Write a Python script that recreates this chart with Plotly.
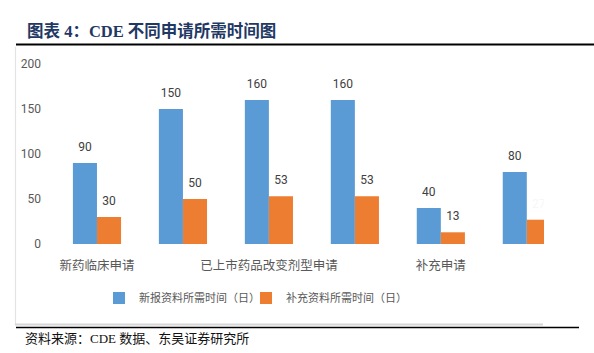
import plotly.graph_objects as go

# ---- data ----
cat_index = [0, 1, 2, 3, 4, 5]
tick_positions = [0, 2, 4]
tick_labels = ["新药临床申请", "已上市药品改变剂型申请", "补充申请"]
new_days = [90, 150, 160, 160, 40, 80]
supp_days = [30, 50, 53, 53, 13, 27]
series_names = ["新报资料所需时间（日）", "补充资料所需时间（日）"]
title_text = "图表 4：CDE 不同申请所需时间图"
source_text = "资料来源：CDE 数据、东吴证券研究所"

W, H = 594, 353
L, R, T, B = 54, 544, 64, 244  # plot area in px


def px(xp):
    return (xp - L) / (R - L)


def py(yp):
    return (B - yp) / (B - T)


blue = "#5B9BD5"
orange = "#ED7D31"
label_color = "#404040"

fig = go.Figure()
fig.add_trace(go.Bar(x=cat_index, y=new_days, name=series_names[0], offsetgroup="a", legend="legend",
                     marker=dict(color=blue, line=dict(width=0)), cliponaxis=True))
fig.add_trace(go.Bar(x=cat_index, y=supp_days, name=series_names[1], offsetgroup="b", legend="legend2",
                     marker=dict(color=orange, line=dict(width=0)), cliponaxis=True))

# data labels (scatter text grouped like the bars)
for vals, grp in [(new_days, "a"), (supp_days, "b")]:
    colors = [label_color] * len(vals)
    if grp == "b":
        colors[-1] = "#f7f7f7"  # label of the clipped last bar is barely visible
    fig.add_trace(go.Scatter(x=cat_index, y=vals, mode="markers+text", text=[str(v) for v in vals],
                             textposition="top center", offsetgroup=grp, showlegend=False,
                             marker=dict(size=13, color="rgba(0,0,0,0)"),
                             textfont=dict(family="Roboto, Noto Sans CJK SC", size=12, color=colors),
                             cliponaxis=True, hoverinfo="skip"))

legend_font = dict(family="Noto Sans CJK SC", size=11, color="#595959")
fig.update_layout(
    width=W, height=H,
    margin=dict(l=L, r=W - R, t=T, b=H - B),
    paper_bgcolor="white", plot_bgcolor="white",
    barmode="group", bargap=0.44, bargroupgap=0,
    scattermode="group", scattergap=0.44,
    showlegend=True,
    legend=dict(orientation="h", x=px(99), xanchor="left", y=py(298), yanchor="middle",
                font=legend_font, bgcolor="rgba(0,0,0,0)"),
    legend2=dict(orientation="h", x=px(246), xanchor="left", y=py(298), yanchor="middle",
                 font=legend_font, bgcolor="rgba(0,0,0,0)"),
    xaxis=dict(range=[-0.5, 5.2], tickmode="array", tickvals=tick_positions, ticktext=tick_labels,
               showgrid=False, showline=False, zeroline=False, ticks="",
               ticklabelstandoff=12,
               tickfont=dict(family="Noto Sans CJK SC", size=12.5, color="#595959")),
    yaxis=dict(range=[0, 200], dtick=50, showgrid=False, showline=False, zeroline=False,
               ticks="", ticklabelstandoff=12,
               tickfont=dict(family="Liberation Sans Narrow, Roboto, Noto Sans CJK SC", size=12, color="#595959")),
    shapes=[
        dict(type="line", xref="paper", yref="paper", x0=px(16), x1=px(594), y0=py(44.5), y1=py(44.5),
             line=dict(color="black", width=2.2)),
        dict(type="line", xref="paper", yref="paper", x0=px(15.5), x1=px(15.5), y0=py(47), y1=py(325),
             line=dict(color="#e3e3e3", width=1.2)),
        dict(type="line", xref="paper", yref="paper", x0=px(15), x1=px(543), y0=py(324.5), y1=py(324.5),
             line=dict(color="#d6d6d6", width=2)),
        dict(type="line", xref="paper", yref="paper", x0=px(16), x1=px(579), y0=py(327.5), y1=py(327.5),
             line=dict(color="black", width=1.5)),
    ],
    annotations=[
        dict(text="<b>" + title_text + "</b>", xref="paper", yref="paper", x=px(25), y=py(31),
             xanchor="left", yanchor="middle", showarrow=False,
             font=dict(family="Liberation Serif, Noto Sans CJK SC", size=16.5, color="#1F3864")),
        dict(text=source_text, xref="paper", yref="paper", x=px(23), y=py(338),
             xanchor="left", yanchor="middle", showarrow=False,
             font=dict(family="Liberation Serif, Noto Sans CJK SC", size=13, color="#111111")),
    ],
)

fig.write_html("out.html")
